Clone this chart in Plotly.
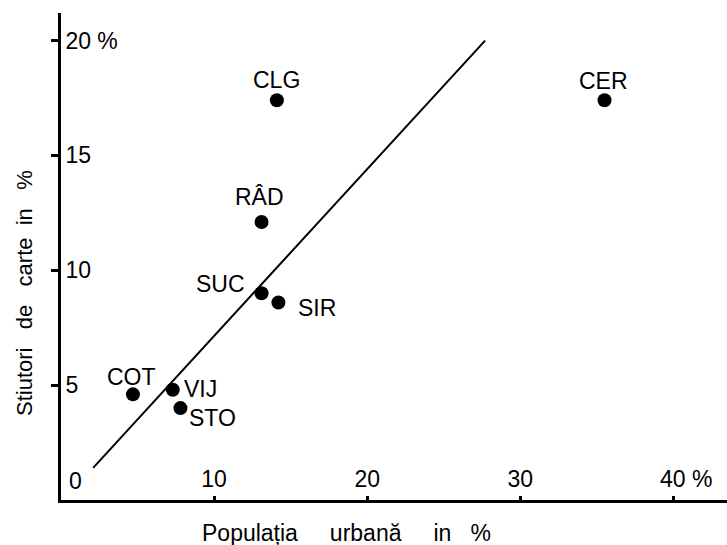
import plotly.graph_objects as go

# Towns: urban population share vs. share of literate people
towns = ["CLG", "CER", "RÂD", "SUC", "SIR", "COT", "VIJ", "STO"]
urban_pct = [14.1, 35.5, 13.1, 13.1, 14.2, 4.7, 7.3, 7.8]
literate_pct = [17.4, 17.4, 12.1, 9.0, 8.6, 4.6, 4.8, 4.0]

# Fitted trend line end points
trend_x = [2.1, 27.7]
trend_y = [1.4, 20.0]

x_ticks = [10, 20, 30, 40]
x_tick_text = ["10", "20", "30", "    40 %"]
y_ticks = [5, 10, 15, 20]
y_tick_text = ["5", "10", "15", "20 %"]

FONT = "Liberation Sans, Arial, sans-serif"
FSIZE = 23
TEXT = dict(family=FONT, size=FSIZE, color="black")

# label placement per town: (xanchor, yanchor, xshift, yshift)
label_style = {
    "CLG": ("center", "middle", 0, 20),
    "CER": ("center", "middle", -1, 19),
    "RÂD": ("center", "middle", -2, 25),
    "SUC": ("right", "middle", -15, 9),
    "SIR": ("left", "middle", 18, -6),
    "COT": ("center", "middle", -1, 17),
    "VIJ": ("left", "middle", 9, 1),
    "STO": ("left", "middle", 7, -10),
}

fig = go.Figure()

fig.add_trace(go.Scatter(
    x=trend_x, y=trend_y, mode="lines",
    line=dict(color="black", width=2),
    hoverinfo="skip", showlegend=False,
))

fig.add_trace(go.Scatter(
    x=urban_pct, y=literate_pct, mode="markers",
    marker=dict(color="black", size=14, line=dict(width=0)),
    text=towns, showlegend=False,
))

annotations = []
for name, ux, ly in zip(towns, urban_pct, literate_pct):
    xa, ya, xs, ys = label_style[name]
    annotations.append(dict(
        x=ux, y=ly, xref="x", yref="y", text=name, showarrow=False,
        xanchor=xa, yanchor=ya, xshift=xs, yshift=ys, font=TEXT,
    ))

# shared origin label
annotations.append(dict(
    x=0, y=0, xref="x", yref="y", text="0", showarrow=False,
    xanchor="left", yanchor="middle", xshift=6, yshift=19, font=TEXT,
))

# axis titles
annotations.append(dict(
    x=0.429, y=0, xref="paper", yref="paper",
    text="Populația     urbană     in   %", showarrow=False,
    xanchor="center", yanchor="middle", yshift=-33, font=TEXT,
))
annotations.append(dict(
    x=0, y=0.425, xref="paper", yref="paper",
    text="Stiutori   de   carte  in   %", showarrow=False, textangle=-90,
    xanchor="center", yanchor="middle", xshift=-37,
    font=dict(family=FONT, size=22, color="black"),
))

fig.update_layout(
    width=727, height=545,
    margin=dict(l=61, r=0, t=13, b=45),
    paper_bgcolor="white", plot_bgcolor="white",
    font=TEXT,
    annotations=annotations,
    xaxis=dict(
        range=[0, 43.5], showgrid=False, zeroline=False,
        showline=True, linecolor="black", linewidth=3,
        tickmode="array", tickvals=x_ticks, ticktext=x_tick_text,
        ticks="inside", ticklen=4, tickwidth=3, tickcolor="black",
        tickfont=TEXT,
        ticklabelposition="inside", ticklabelstandoff=6,
    ),
    yaxis=dict(
        range=[0, 21.2], showgrid=False, zeroline=False,
        showline=True, linecolor="black", linewidth=3,
        tickmode="array", tickvals=y_ticks, ticktext=y_tick_text,
        ticks="outside", ticklen=7, tickwidth=3, tickcolor="black",
        tickfont=TEXT,
        ticklabelposition="inside", ticklabelstandoff=6,
    ),
)

fig.write_html("out.html")
